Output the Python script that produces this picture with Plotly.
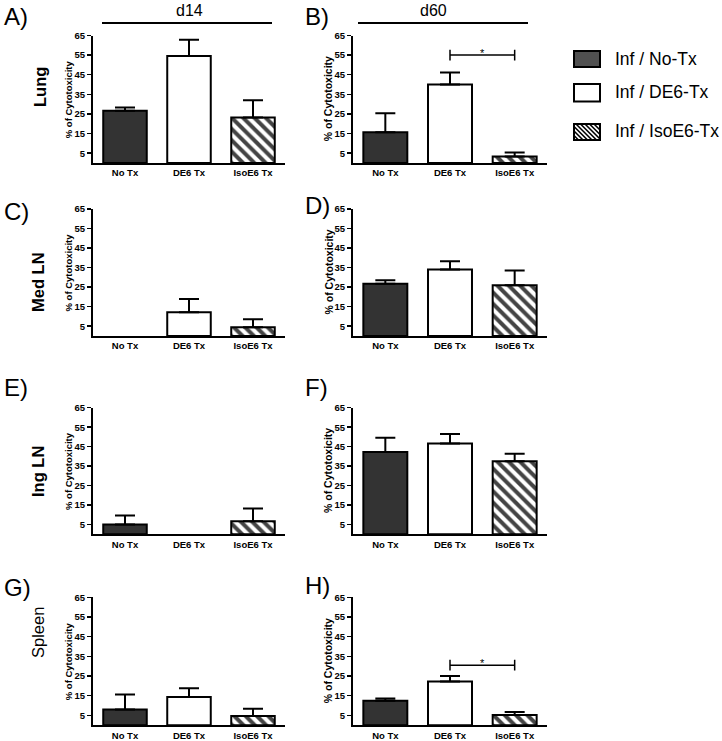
import plotly.graph_objects as go

W, H = 722, 741

categories = ["No Tx", "DE6 Tx", "IsoE6 Tx"]
group_names = ["Inf / No-Tx", "Inf / DE6-Tx", "Inf / IsoE6-Tx"]
panel_letters = ["A)", "B)", "C)", "D)", "E)", "F)", "G)", "H)"]
row_labels = ["Lung", "Med LN", "Ing LN", "Spleen"]
col_headers = ["d14", "d60"]
y_ticks = [5, 15, 25, 35, 45, 55, 65]
y_title = "% of Cytotoxicity"

# mean % cytotoxicity and upper error (SEM) per panel
A_mean = [26.6, 54.5, 23.2]
A_err = [1.7, 8.3, 8.8]
B_mean = [15.7, 40.0, 3.3]
B_err = [9.7, 6.2, 2.0]
C_mean = [None, 12.1, 4.5]
C_err = [None, 6.9, 4.1]
D_mean = [26.8, 34.0, 26.0]
D_err = [1.7, 4.3, 7.5]
E_mean = [5.0, None, 6.7]
E_err = [4.6, None, 6.6]
F_mean = [42.3, 46.6, 37.5]
F_err = [7.3, 4.9, 3.8]
G_mean = [8.0, 14.3, 4.7]
G_err = [7.6, 4.5, 3.7]
H_mean = [12.4, 22.2, 5.2]
H_err = [1.2, 2.8, 1.5]

# significance brackets: (panel index, from category idx, to category idx, level)
sig_B = (1, 1, 2, 55.0)
sig_H = (7, 1, 2, 30.5)

means = [A_mean, B_mean, C_mean, D_mean, E_mean, F_mean, G_mean, H_mean]
errs = [A_err, B_err, C_err, D_err, E_err, F_err, G_err, H_err]

FONT = "Liberation Sans, Arial, sans-serif"
BAR_FILL = ["#333333", "white", "white"]
PATTERN = ["", "", "\\"]


def px(x):
    return x / W


def py(y):
    return 1 - y / H


col_x = [(93, 285), (353, 547)]
row_y = [(35.5, 163.0), (209.0, 336.0), (407.7, 534.3), (597.3, 725.2)]

fig = go.Figure()
layout = dict(
    width=W, height=H, margin=dict(l=0, r=0, t=0, b=0),
    paper_bgcolor="white", plot_bgcolor="white",
    showlegend=False, template="none", font=dict(family=FONT, color="black"),
)
annotations = []
shapes = []

for i in range(8):
    r, c = divmod(i, 2)
    n = i + 1
    xa = "x" if n == 1 else f"x{n}"
    ya = "y" if n == 1 else f"y{n}"
    xk = "xaxis" if n == 1 else f"xaxis{n}"
    yk = "yaxis" if n == 1 else f"yaxis{n}"
    fig.add_trace(go.Bar(
        x=categories, y=means[i], xaxis=xa, yaxis=ya, width=0.68,
        marker=dict(color=BAR_FILL, line=dict(color="black", width=2),
                    pattern=dict(shape=PATTERN, fgcolor="black", fgopacity=1, size=8,
                                 solidity=0.5, fillmode="overlay")),
        error_y=dict(type="data", symmetric=False, array=errs[i],
                     arrayminus=[0 if v is not None else None for v in errs[i]],
                     color="black", thickness=2, width=10),
        hoverinfo="skip", showlegend=False,
    ))
    x0, x1 = col_x[c]
    y0, y1 = row_y[r]
    tick_size = 9.5
    layout[xk] = dict(
        domain=[px(x0), px(x1)], anchor=ya, type="category", range=[-0.5, 2.5],
        showline=True, linecolor="black", linewidth=2, ticks="",
        showgrid=False, zeroline=False, automargin=False, fixedrange=True,
        tickfont=dict(size=tick_size, weight="bold", family=FONT, color="black"),
    )
    layout[yk] = dict(
        domain=[py(y1), py(y0)], anchor=xa, range=[0, 65], tickvals=y_ticks,
        showline=True, linecolor="black", linewidth=2, ticks="outside",
        ticklen=4, tickwidth=1.5, tickcolor="black", showgrid=False,
        zeroline=False, automargin=False, fixedrange=True,
        tickfont=dict(size=tick_size, weight="bold", family=FONT, color="black"),
    )
    # y axis title
    tx = 68 if c == 0 else 328
    annotations.append(dict(
        text=y_title, x=px(tx), y=py((y0 + y1) / 2), xref="paper", yref="paper",
        textangle=-90, showarrow=False, xanchor="center", yanchor="middle",
        font=dict(size=9.5 if c == 0 else 10.5, weight="bold", family=FONT),
    ))

# panel letters
letter_pos = [(2, 17), (303, 17), (2, 211), (303, 205), (2, 387), (303, 387), (2, 587), (303, 585)]
for t, (lx, ly) in zip(panel_letters, letter_pos):
    annotations.append(dict(text=t, x=px(lx), y=py(ly), xref="paper", yref="paper",
                            showarrow=False, xanchor="left", yanchor="middle",
                            font=dict(size=24, family=FONT)))

# row labels
row_pos = [(40, 87), (38, 282), (38, 472), (38, 633)]
for k, (t, (lx, ly)) in enumerate(zip(row_labels, row_pos)):
    annotations.append(dict(text=t, x=px(lx), y=py(ly), xref="paper", yref="paper",
                            textangle=-90, showarrow=False, xanchor="center", yanchor="middle",
                            font=dict(size=16.5, family=FONT, weight="normal" if k == 3 else "bold")))

# column headers
hdr = [(189, 102, 272), (433, 358, 528)]
for t, (hx, lx0, lx1) in zip(col_headers, hdr):
    annotations.append(dict(text=t, x=px(hx), y=py(10), xref="paper", yref="paper",
                            showarrow=False, xanchor="center", yanchor="middle",
                            font=dict(size=16, family=FONT)))
    shapes.append(dict(type="line", xref="paper", yref="paper", x0=px(lx0), x1=px(lx1),
                       y0=py(23), y1=py(23), line=dict(color="black", width=2)))

# significance brackets
for (pi, a, b, lvl) in [sig_B, sig_H]:
    n = pi + 1
    xr = f"x{n}"
    yr = f"y{n}"
    shapes.append(dict(type="line", xref=xr, yref=yr, x0=a, x1=b, y0=lvl, y1=lvl,
                       line=dict(color="black", width=1.5)))
    for xv in (a, b):
        shapes.append(dict(type="line", xref=xr, yref=yr, x0=xv, x1=xv, y0=lvl - 2.7, y1=lvl + 2.7,
                           line=dict(color="black", width=1.5)))
    annotations.append(dict(text="*", x=(a + b) / 2, y=lvl, xref=xr, yref=yr, showarrow=False,
                            xanchor="center", yanchor="middle", yshift=2,
                            font=dict(size=11, family=FONT)))

# legend
leg_boxes = [(51, 67), (84, 101.5), (124, 140)]
leg_text_y = [59, 92, 131]
bx0, bx1 = 574, 600
leg_fill = ["#505050", "white", "white"]
for k in range(3):
    t0, t1 = leg_boxes[k]
    shapes.append(dict(type="rect", xref="paper", yref="paper", x0=px(bx0), x1=px(bx1),
                       y0=py(t1), y1=py(t0), fillcolor=leg_fill[k],
                       line=dict(color="black", width=2)))
    if PATTERN[k]:
        kk = bx0 - t1
        while kk <= bx1 - t0:
            ya0 = max(t0, bx0 - kk)
            ya1 = min(t1, bx1 - kk)
            if ya1 > ya0:
                shapes.append(dict(type="line", xref="paper", yref="paper",
                                   x0=px(ya0 + kk), y0=py(ya0), x1=px(ya1 + kk), y1=py(ya1),
                                   line=dict(color="black", width=1.6)))
            kk += 4.5
        shapes.append(dict(type="rect", xref="paper", yref="paper", x0=px(bx0), x1=px(bx1),
                           y0=py(t1), y1=py(t0), line=dict(color="black", width=2)))
    annotations.append(dict(text=group_names[k], x=px(613), y=py(leg_text_y[k]), xref="paper",
                            yref="paper", showarrow=False, xanchor="left", yanchor="middle",
                            font=dict(size=17.5, family=FONT)))

layout["annotations"] = annotations
layout["shapes"] = shapes
fig.update_layout(**layout)
fig.write_html(
    "out.html",
    config={"displayModeBar": False, "staticPlot": True},
    post_script="document.body.style.margin='0';document.body.style.padding='0';"
                "document.body.style.overflow='hidden';",
)
